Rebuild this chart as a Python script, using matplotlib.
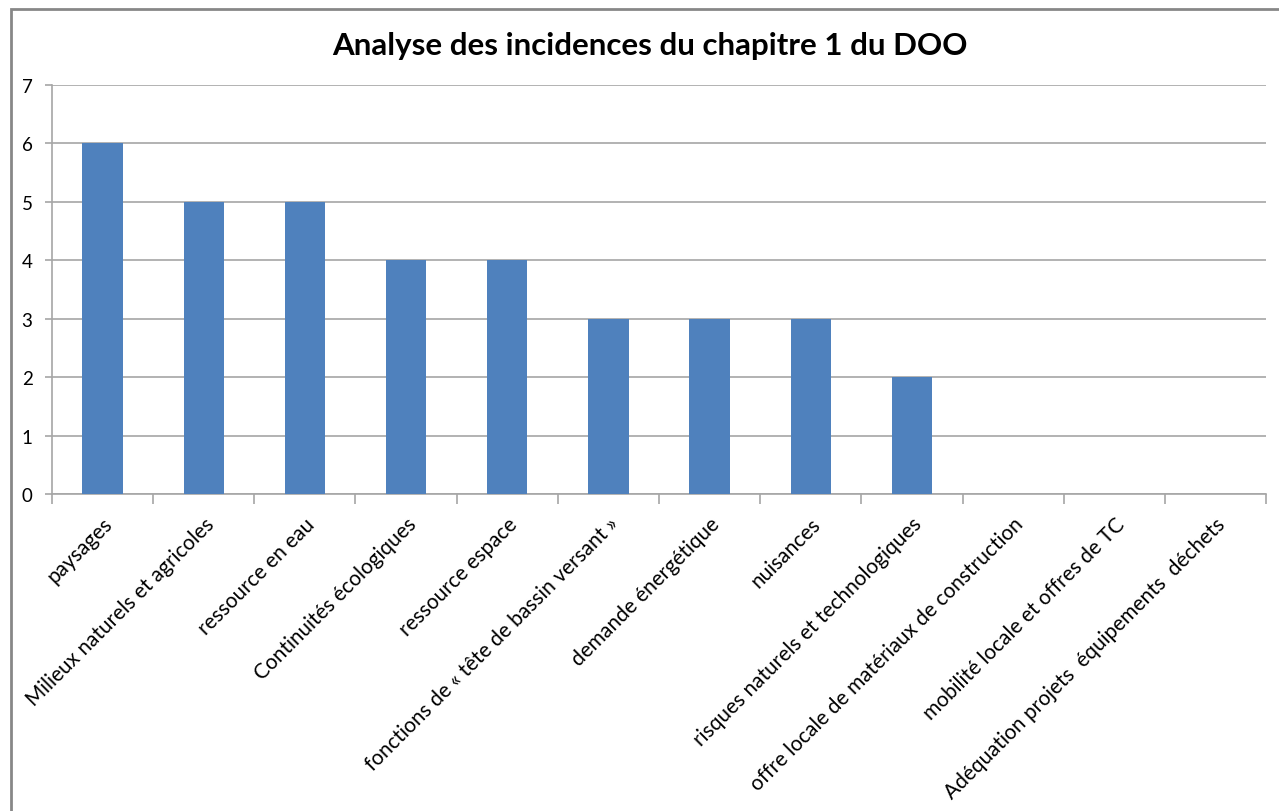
import matplotlib
matplotlib.use("Agg")
import matplotlib.pyplot as plt
from matplotlib.patches import Rectangle

categories = [
    "paysages",
    "Milieux naturels et agricoles",
    "ressource en eau",
    "Continuités écologiques",
    "ressource espace",
    "fonctions de « tête de bassin versant »",
    "demande énergétique",
    "nuisances",
    "risques naturels et technologiques",
    "offre locale de matériaux de construction",
    "mobilité locale et offres de TC",
    "Adéquation projets  équipements  déchets",
]
values = [6, 5, 5, 4, 4, 3, 3, 3, 2, 0, 0, 0]
title = "Analyse des incidences du chapitre 1 du DOO"

plt.rcParams['font.family'] = ['Lato', 'DejaVu Sans']

W, H = 1279, 812
fig = plt.figure(figsize=(W / 100, H / 100), dpi=100)
fig.patch.set_facecolor('white')

# outer frame (chart area border, cut off at right/bottom)
fig.patches.append(Rectangle((11 / W, -0.05), 1.1, (H - 10) / H + 0.05,
                             transform=fig.transFigure, fill=False,
                             edgecolor='#878787', linewidth=2, zorder=0))

left, right = 52, 1266
top, bottom = 86, 495
ax = fig.add_axes([left / W, 1 - bottom / H, (right - left) / W, (bottom - top) / H])

x = list(range(len(categories)))
ax.bar(x, values, width=0.4, color='#4F81BD', zorder=3)
ax.set_xlim(-0.5, len(categories) - 0.5)
ax.set_ylim(0, 7)
ax.set_yticks(range(0, 8))
ax.yaxis.grid(True, color='#A6A6A6', linewidth=1.2, zorder=0)
ax.set_axisbelow(True)

for s in ['top', 'right']:
    ax.spines[s].set_visible(False)
for s in ['left', 'bottom']:
    ax.spines[s].set_color('#A6A6A6')
    ax.spines[s].set_linewidth(1.2)

ax.tick_params(axis='y', colors='#A6A6A6', labelcolor='black', labelsize=13.5, length=5, width=1.2, pad=9)
ax.set_xticks([i - 0.5 for i in range(len(categories) + 1)], minor=False)
ax.set_xticklabels([])
ax.tick_params(axis='x', colors='#A6A6A6', length=7, width=1.2)
ax.set_xticks(x, minor=True)
ax.set_xticklabels(categories, minor=True, rotation=45, ha='right', va='top',
                   rotation_mode='anchor', fontsize=15)
ax.tick_params(axis='x', which='minor', length=0, pad=14, labelcolor='black')

fig.text(650 / W, 1 - 46 / H, title, ha='center', va='center', fontsize=22.5, fontweight='bold')

fig.savefig('out.png', dpi=100)
